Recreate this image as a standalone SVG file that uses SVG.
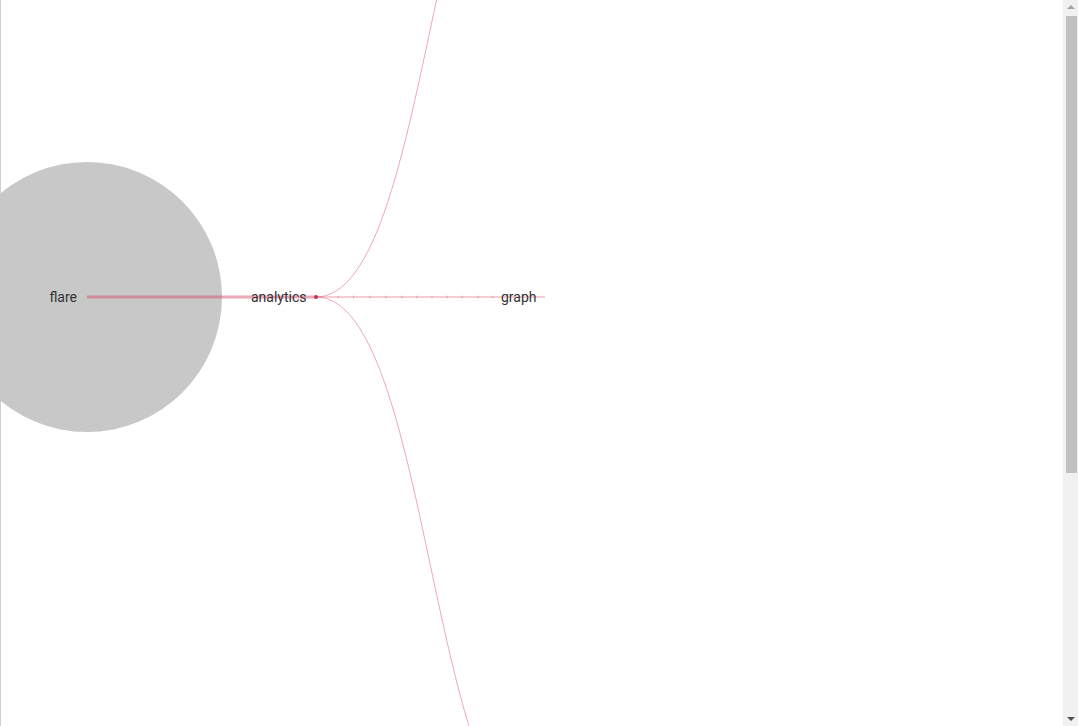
<svg xmlns="http://www.w3.org/2000/svg" width="1078" height="726" viewBox="0 0 1078 726">
<style>
.lbl{font-family:Roboto,"Liberation Sans",sans-serif;font-size:14px;fill:#333;text-anchor:end}
.lnk{fill:none;stroke:#d6405f;stroke-opacity:0.45;stroke-width:1}
.tick{stroke:#d6405f;stroke-opacity:0.35;stroke-width:1}
</style>
<rect width="1078" height="726" fill="#fff"/>
<line x1="0.5" y1="0" x2="0.5" y2="726" stroke="#d0d0d0" stroke-width="1"/>
<g id="flare-bubble"><circle cx="87" cy="297" r="135" fill="#c8c8c8"/></g>
<g id="connectors">
<line x1="87" y1="297" x2="316" y2="297" stroke="#d6405f" stroke-opacity="0.45" stroke-width="3"/>
<path class="lnk" d="M316,297 C430.5,297 430.5,-240.6 545,-240.6"/>
<path class="lnk" d="M316,297 C430.5,297 430.5,834.7 545,834.7"/>
<line x1="316" y1="297" x2="545" y2="297" stroke="#d6405f" stroke-opacity="0.35" stroke-width="1.5"/>
<g class="ticks">
<line class="tick" x1="338" y1="295.5" x2="338" y2="298.5"/>
<line class="tick" x1="353.5" y1="295.5" x2="353.5" y2="298.5"/>
<line class="tick" x1="370" y1="295.5" x2="370" y2="298.5"/>
<line class="tick" x1="386" y1="295.5" x2="386" y2="298.5"/>
<line class="tick" x1="402" y1="295.5" x2="402" y2="298.5"/>
<line class="tick" x1="417" y1="295.5" x2="417" y2="298.5"/>
<line class="tick" x1="432" y1="295.5" x2="432" y2="298.5"/>
<line class="tick" x1="447" y1="295.5" x2="447" y2="298.5"/>
<line class="tick" x1="462" y1="295.5" x2="462" y2="298.5"/>
<line class="tick" x1="478" y1="295.5" x2="478" y2="298.5"/>
<line class="tick" x1="493" y1="295.5" x2="493" y2="298.5"/>
</g>
</g>
<g id="node-flare"><text class="lbl" x="77" y="301.5">flare</text></g>
<g id="node-analytics"><circle cx="316" cy="297" r="2" fill="#c8304f"/><text class="lbl" x="306.5" y="301.5">analytics</text></g>
<g id="node-graph"><text class="lbl" x="536.5" y="301.5">graph</text></g>
<g id="scrollbar">
<rect x="1063" y="0" width="15" height="726" fill="#f1f1f1"/>
<rect x="1066" y="16" width="11" height="457" fill="#c1c1c1"/>
<path d="M1067,9 L1071,5 L1075,9 Z" fill="#a3a3a3"/>
<path d="M1067,717 L1075,717 L1071,721 Z" fill="#505050"/>
</g>
</svg>
